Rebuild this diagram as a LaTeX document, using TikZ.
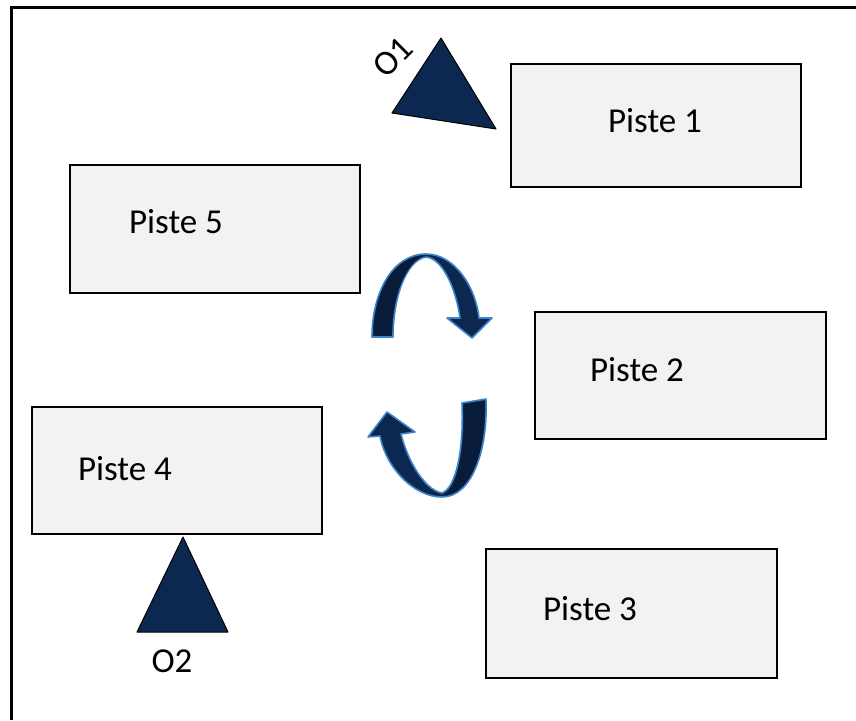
\documentclass[tikz,border=0pt]{standalone}
\usepackage{fontspec}
\setmainfont{Carlito}
\definecolor{navy}{RGB}{13,40,80}
\definecolor{navydark}{RGB}{8,28,58}
\definecolor{edgeblue}{RGB}{62,132,200}
\definecolor{boxgray}{RGB}{242,242,242}
\tikzset{
  piste/.style={draw=black, line width=2pt, fill=boxgray, minimum width=290pt, minimum height=127pt, inner sep=0pt, outer sep=0pt},
  lbl/.style={font=\fontsize{35}{40}\selectfont, inner sep=0pt, anchor=center},
  marker/.style={fill=navy, draw=black, line width=1pt, line join=round},
  turn/.style={fill=navy, draw=edgeblue, line width=1.6pt, line join=round},
}
\begin{document}
\begin{tikzpicture}[x=1pt,y=-1pt]
\useasboundingbox (0,0) rectangle (856,720);
% frame
\draw[line width=3pt] (11.5,720) -- (11.5,7.5) -- (856,7.5);
% boxes
\node[piste, minimum height=123pt] (p1) at (656,125.5) {};
\node[lbl] (t1) at (655,121) {Piste 1};
\node[piste, minimum height=128pt] (p5) at (215,229) {};
\node[lbl] (t5) at (176,222) {Piste 5};
\node[piste, minimum width=291pt] (p2) at (680.5,375.5) {};
\node[lbl] (t2) at (637,370) {Piste 2};
\node[piste] (p4) at (177,470.5) {};
\node[lbl] (t4) at (125,469) {Piste 4};
\node[piste, minimum width=291pt, minimum height=129pt] (p3) at (631.5,613.5) {};
\node[lbl] (t3) at (590,609) {Piste 3};
% markers
\draw[marker] (441,38) -- (392,113) -- (496,129) -- cycle;
\node[lbl, rotate=45] (o1) at (393,57) {O1};
\draw[marker] (183,537) -- (137,632) -- (228,632) -- cycle;
\node[lbl] (o2) at (172,661) {O2};
% upper turning arrow
\draw[turn] (372,337) .. controls (372,292) and (393,254) .. (426,254)
  .. controls (455,254) and (476,288) .. (479,318)
  -- (492,318) -- (472,338) -- (447,318) -- (460,318)
  .. controls (456,288) and (442,258) .. (426,257)
  .. controls (406,260) and (393,298) .. (393,337) -- cycle;
\fill[navydark] (373.5,335.5) .. controls (373.5,292) and (394,256) .. (424,256)
  .. controls (406,262) and (391.5,298) .. (391.5,335.5) -- cycle;
% lower turning arrow
\draw[turn] (486,399) .. controls (488,450) and (472,497) .. (442,497)
  .. controls (414,497) and (386,468) .. (380,436)
  -- (368,437) -- (387,412) -- (415,432) -- (401,434)
  .. controls (408,462) and (425,490) .. (442,493)
  .. controls (456,488) and (464,450) .. (462,403) -- cycle;
\fill[navydark] (484.5,401) .. controls (486.5,450) and (471,494) .. (444,495)
  .. controls (457,489) and (465.5,450) .. (463.5,404.5) -- cycle;
\end{tikzpicture}
\end{document}
